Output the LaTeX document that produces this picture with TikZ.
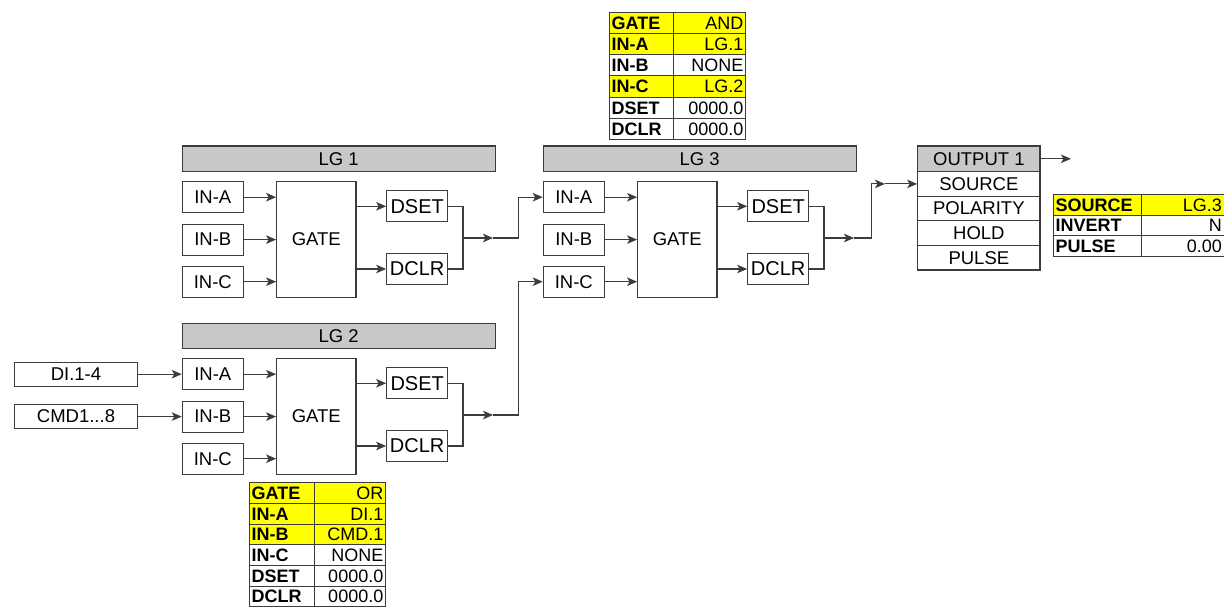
\documentclass[tikz,border=0pt]{standalone}
\usepackage{fontspec}
\setmainfont{Liberation Sans}
\usetikzlibrary{arrows.meta}
\definecolor{ln}{RGB}{60,60,60}
\definecolor{barg}{RGB}{200,200,200}
\definecolor{yel}{RGB}{255,255,0}
\tikzset{
 box/.style={draw=ln, line width=1.1pt, fill=white, inner sep=0pt, font=\fontsize{18.5}{20}\selectfont},
 bar/.style={box, fill=barg},
 dbox/.style={box, font=\fontsize{20}{22}\selectfont, minimum width=61, minimum height=31},
 inbox/.style={box, minimum width=61, minimum height=31},
 conn/.style={draw=ln, line width=1.1pt},
 arr/.style={conn, -{Stealth[length=10pt,width=8.5pt,inset=2.5pt]}},
 tbl/.style={draw=ln, line width=1pt},
 tlab/.style={inner sep=0pt, font=\bfseries\fontsize{18}{20}\selectfont, anchor=base west},
 tval/.style={inner sep=0pt, font=\fontsize{18}{20}\selectfont, anchor=base east},
}
\begin{document}
\begin{tikzpicture}[x=1pt,y=-1pt]
\useasboundingbox (0,0) rectangle (1224,607);
% logic groups
\foreach \g/\dx/\dy in {1/0/0, 2/0/177, 3/361/0}{
 \begin{scope}[shift={(\dx,\dy)}]
  \node[bar, minimum width=312.7, minimum height=25.7] (bar\g) at (338.7,158.9) {LG \g};
  \node[inbox] (a\g) at (212.8,197.2) {IN-A};
  \node[inbox] (b\g) at (212.8,239.6) {IN-B};
  \node[inbox] (c\g) at (212.8,281.7) {IN-C};
  \node[box, minimum width=79.3, minimum height=115.6] (gate\g) at (316.3,239.5) {GATE};
  \node[dbox] (set\g) at (417.2,206.3) {DSET};
  \node[dbox] (clr\g) at (417.2,269) {DCLR};
  \coordinate (j\g) at (463,238);
  \coordinate (m\g) at (493,238);
 \end{scope}
 \draw[arr] (a\g.east) -- (a\g.east -| gate\g.west);
 \draw[arr] (b\g.east) -- (b\g.east -| gate\g.west);
 \draw[arr] (c\g.east) -- (c\g.east -| gate\g.west);
 \draw[arr] (set\g.west -| gate\g.east) -- (set\g.west);
 \draw[arr] (clr\g.west -| gate\g.east) -- (clr\g.west);
 \draw[conn] (set\g.east) -| (j\g) |- (clr\g.east);
 \draw[arr] (j\g) -- (m\g);
}
% inputs of LG2
\node[box, minimum width=123.4, minimum height=24] (di) at (76,374.2) {DI.1-4};
\node[box, minimum width=123.4, minimum height=24] (cmd) at (76,416.6) {CMD1...8};
\draw[arr] (di.east) -- (a2.west);
\draw[arr] (cmd.east) -- (b2.west);
% links to LG3
\coordinate (k1) at (518.3,238);
\coordinate (k2) at (518.3,415);
\draw[arr] (m1) -- (k1) |- (a3.west);
\draw[arr] (m2) -- (k2) |- (c3.west);
% output block
\node[bar, minimum width=122.3, minimum height=25.6] (out) at (978.85,158.8) {OUTPUT 1};
\node[box, minimum width=122.3, minimum height=24.6] (src) at (978.85,183.9) {SOURCE};
\node[box, minimum width=122.3, minimum height=24.6] (pol) at (978.85,208.5) {POLARITY};
\node[box, minimum width=122.3, minimum height=24.6] (hold) at (978.85,233.1) {HOLD};
\node[box, minimum width=122.3, minimum height=24.6] (pul) at (978.85,257.7) {PULSE};
\coordinate (k3) at (871.7,238);
\coordinate (n3) at (885,183.9);
\coordinate (o1) at (1071,158.8);
\draw[arr] (m3) -- (k3) |- (n3);
\draw[arr] (n3) -- (src.west);
\draw[arr] (out.east) -- (o1);
% table for LG3
\foreach \lab/\val/\fl [count=\i] in {GATE/AND/yel, IN-A/LG.1/yel, IN-B/NONE/white, IN-C/LG.2/yel, DSET/0000.0/white, DCLR/0000.0/white}{
 \pgfmathsetmacro\ya{12.7+(\i-1)*21.1}
 \pgfmathsetmacro\yb{\ya+21.1}
 \pgfmathsetmacro\yt{\ya+10.55+6.4}
 \draw[tbl, fill=\fl] (609.3,\ya) rectangle (673.3,\yb);
 \draw[tbl, fill=\fl] (673.3,\ya) rectangle (745.7,\yb);
 \node[tlab] (tal\i) at (611.5,\yt) {\lab};
 \node[tval] (tav\i) at (743.5,\yt) {\val};
}
% table for LG2
\foreach \lab/\val/\fl [count=\i] in {GATE/OR/yel, IN-A/DI.1/yel, IN-B/CMD.1/yel, IN-C/NONE/white, DSET/0000.0/white, DCLR/0000.0/white}{
 \pgfmathsetmacro\ya{482.7+(\i-1)*20.7}
 \pgfmathsetmacro\yb{\ya+20.7}
 \pgfmathsetmacro\yt{\ya+10.35+6.4}
 \draw[tbl, fill=\fl] (249.3,\ya) rectangle (314,\yb);
 \draw[tbl, fill=\fl] (314,\ya) rectangle (385.7,\yb);
 \node[tlab] (tbl\i) at (251.5,\yt) {\lab};
 \node[tval] (tbv\i) at (383.5,\yt) {\val};
}
% table for output
\foreach \lab/\val/\fl [count=\i] in {SOURCE/LG.3/yel, INVERT/N/white, PULSE/0.00/white}{
 \pgfmathsetmacro\ya{194.3+(\i-1)*20.8}
 \pgfmathsetmacro\yb{\ya+20.8}
 \pgfmathsetmacro\yt{\ya+10.4+6.4}
 \draw[tbl, fill=\fl] (1053.3,\ya) rectangle (1141.7,\yb);
 \draw[tbl, fill=\fl] (1141.7,\ya) rectangle (1230,\yb);
 \node[tlab] (tcl\i) at (1055.5,\yt) {\lab};
 \node[tval] (tcv\i) at (1222,\yt) {\val};
}
\end{tikzpicture}
\end{document}
